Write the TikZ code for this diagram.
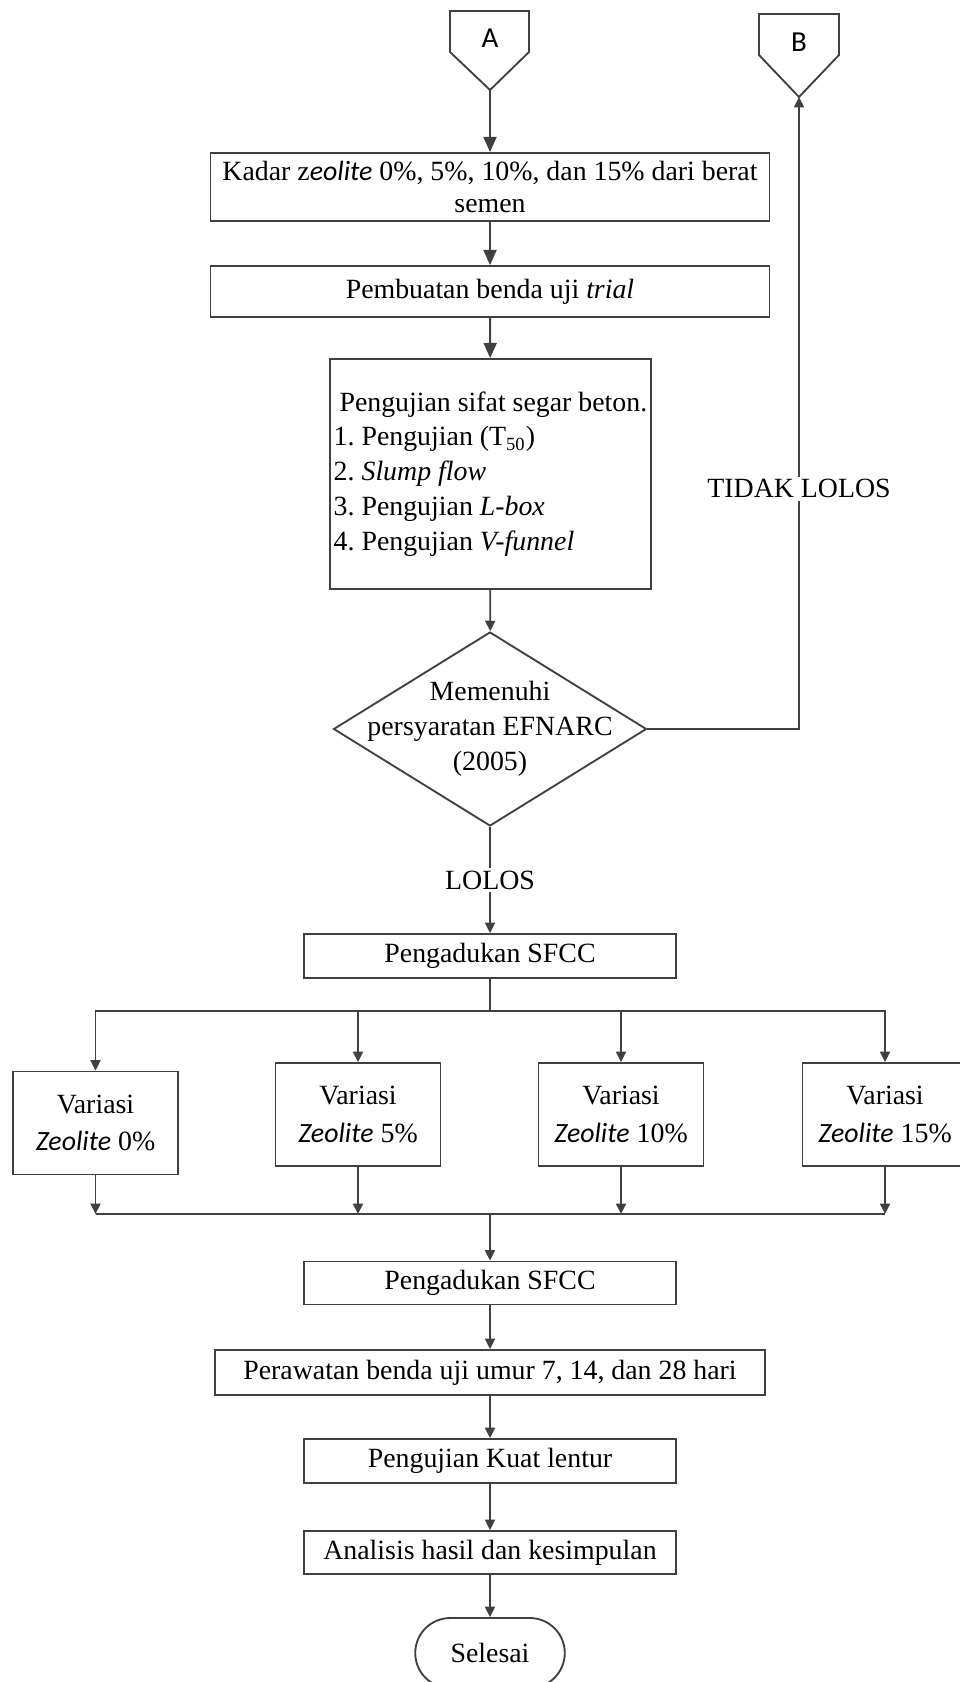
\documentclass[tikz,border=0pt]{standalone}
\usepackage{fontspec}
\setmainfont{Liberation Serif}
\newfontfamily\calib{Carlito}
\usepackage{tikz}
\usetikzlibrary{arrows.meta, shapes.geometric, shapes.misc}

\definecolor{linegray}{HTML}{404040}
\newcommand{\pxu}{0.431pt}
\frenchspacing

\begin{document}
\begin{tikzpicture}
  [
    x = 0.431pt, y = -0.431pt,
    font = \fontsize{12}{15}\selectfont,
    line width = 0.8pt,
    proc/.style = {draw = linegray, rectangle, inner sep = 1pt, align = center},
    var/.style = {proc, minimum width = 165*\pxu, minimum height = 103*\pxu,
                  font = \fontsize{12}{16}\selectfont},
    flow/.style = {draw = linegray, -{Triangle[length=6.5pt, width=5.6pt]}},
    thinflow/.style = {draw = linegray, -{Triangle[length=4.5pt, width=4.3pt]}},
    lbl/.style = {fill = white, inner sep = 1pt}
  ]
  \path[use as bounding box, clip] (0,0) rectangle (960,1682);

  % off-page connectors
  \draw[linegray] (450,11) -- (529,11) -- (529,52) -- (490,90) coordinate (Atip)
    -- (450,52) -- cycle;
  \node[font = \calib\fontsize{12.5}{14}\selectfont] (A) at (490,38) {A};
  \draw[linegray] (759,14) -- (839,14) -- (839,55) -- (799,97) coordinate (Btip)
    -- (759,55) -- cycle;
  \node[font = \calib\fontsize{12.5}{14}\selectfont] (B) at (799,42) {B};

  \node[proc, minimum width = 559*\pxu, minimum height = 68*\pxu,
        font = \fontsize{12}{14}\selectfont] (Kadar) at (490,187)
    {Kadar z{\calib\itshape eolite} 0\%, 5\%, 10\%, dan 15\% dari berat\\semen};
  \node[proc, minimum width = 559*\pxu, minimum height = 51*\pxu] (Buat) at (490,291.5)
    {Pembuatan benda uji \textit{trial}};
  \node[proc, minimum width = 321*\pxu, minimum height = 230*\pxu, align = left,
        inner sep = 0.5pt] (Uji) at (490.5,474)
    {\hspace*{2.5pt}Pengujian sifat segar beton.\\
     1. Pengujian (T\textsubscript{50})\\
     2. \textit{Slump flow}\\
     3. Pengujian \textit{L-box}\\
     4. Pengujian \textit{V-funnel}};

  % decision
  \node[diamond, draw = linegray, minimum width = 313*\pxu, minimum height = 194*\pxu,
        inner sep = 0pt] (Cek) at (490,729) {};
  \node[align = center] (CekText) at (490,729)
    {Memenuhi\\persyaratan EFNARC\\(2005)};

  \node[proc, minimum width = 372*\pxu, minimum height = 44*\pxu] (Aduk1) at (490,956)
    {Pengadukan SFCC};

  \node[var] (V0)  at (95.5,1123)  {Variasi\\{\calib\itshape Zeolite} 0\%};
  \node[var] (V5)  at (358,1114.5) {Variasi\\{\calib\itshape Zeolite} 5\%};
  \node[var] (V10) at (621,1114.5) {Variasi\\{\calib\itshape Zeolite} 10\%};
  \node[var] (V15) at (885,1114.5) {Variasi\\{\calib\itshape Zeolite} 15\%};

  \node[proc, minimum width = 372*\pxu, minimum height = 43*\pxu] (Aduk2) at (490,1283)
    {Pengadukan SFCC};
  \node[proc, minimum width = 550*\pxu, minimum height = 45*\pxu] (Rawat) at (490,1372.5)
    {Perawatan benda uji umur 7, 14, dan 28 hari};
  \node[proc, minimum width = 372*\pxu, minimum height = 44*\pxu] (Lentur) at (490,1461)
    {Pengujian Kuat lentur};
  \node[proc, minimum width = 372*\pxu, minimum height = 43*\pxu] (Analisis) at (490,1552.5)
    {Analisis hasil dan kesimpulan};
  \node[rounded rectangle, draw = linegray, minimum width = 165*\pxu,
        minimum height = 70*\pxu] (Selesai) at (490,1653) {Selesai};

  \coordinate (Split) at (490,1011);
  \coordinate (Join) at (490,1214);

  % connectors
  \draw[flow] (Atip) -- (Kadar);
  \draw[flow] (Kadar) -- (Buat);
  \draw[flow] (Buat) -- (Uji);
  \draw[thinflow] (Uji) -- (Cek);
  \draw[thinflow] (Cek.east) -| node[lbl, pos = 0.69] (Tidak) {TIDAK LOLOS} (Btip);
  \draw[thinflow] (Cek) -- node[lbl] (Lolos) {LOLOS} (Aduk1);
  \draw[linegray] (Aduk1) -- (Split);
  \foreach \v in {V0, V5, V10, V15} {
    \draw[thinflow] (Split) -| (\v);
    \draw[thinflow] (\v) -- (\v |- Join);
  }
  \draw[linegray] (V0 |- Join) -- (V15 |- Join);
  \draw[thinflow] (Join) -- (Aduk2);
  \draw[thinflow] (Aduk2) -- (Rawat);
  \draw[thinflow] (Rawat) -- (Lentur);
  \draw[thinflow] (Lentur) -- (Analisis);
  \draw[thinflow] (Analisis) -- (Selesai);
\end{tikzpicture}
\end{document}
